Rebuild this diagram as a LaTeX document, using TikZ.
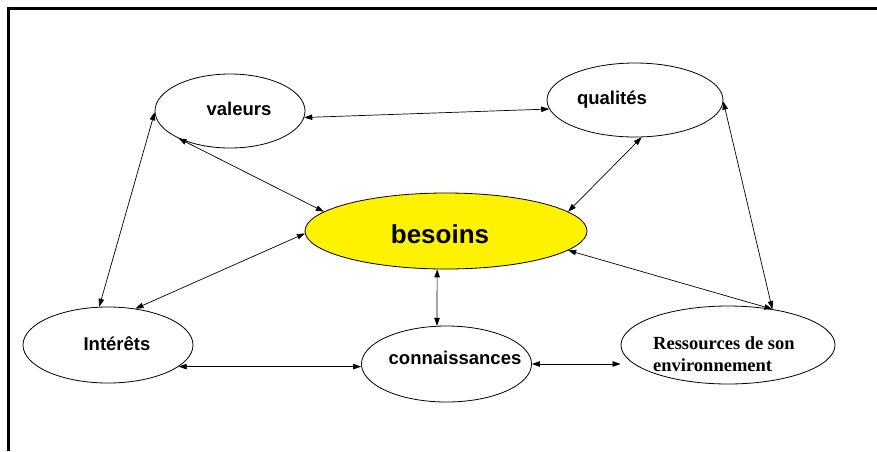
\documentclass[tikz,border=0pt]{standalone}
\usepackage{fontspec}
\setmainfont{Liberation Sans}
\newfontfamily\timesbold{Liberation Serif}
\usetikzlibrary{shapes.geometric,arrows.meta}
\begin{document}
\begin{tikzpicture}[x=1pt,y=-1pt,
  bubble/.style={ellipse,draw,line width=0.8pt,inner sep=0pt,fill=white},
  word/.style={font=\fontsize{18.5}{22}\selectfont\bfseries,anchor=base,inner sep=0pt},
  serifword/.style={font=\fontsize{18.5}{22}\selectfont\timesbold\bfseries,anchor=base west,inner sep=0pt},
  link/.style={line width=0.7pt,{Triangle[length=8pt,width=5.5pt]}-{Triangle[length=8pt,width=5.5pt]}},
]
\useasboundingbox (0,0) rectangle (877,451);
% frame on the top and left sides
\draw[line width=3.5pt] (8.5,451) -- (8.5,8.5) -- (877,8.5);

% concept bubbles
\node[bubble,minimum width=150pt,minimum height=74pt] (V) at (230,111) {};
\node[bubble,minimum width=176pt,minimum height=74pt] (Q) at (635,100) {};
\node[bubble,fill=yellow,minimum width=282pt,minimum height=76pt] (B) at (446,231) {};
\node[bubble,minimum width=170pt,minimum height=76pt] (I) at (108,345) {};
\node[bubble,minimum width=170pt,minimum height=76pt] (C) at (446.5,364) {};
\node[bubble,minimum width=214pt,minimum height=78pt] (R) at (728,345) {};

% bubble texts, placed by their baselines
\node[word] (Vt) at (239,115) {valeurs};
\node[word] (Qt) at (612,104) {qualités};
\node[word,font=\fontsize{26}{30}\selectfont\bfseries] (Bt) at (440,243) {besoins};
\node[word] (It) at (117,350) {Intérêts};
\node[word] (Ct) at (455,364) {connaissances};
\node[serifword] (Rt1) at (653,349) {Ressources de son};
\node[serifword] (Rt2) at (653,371) {environnement};

% two-way links
\draw[link] (V.-5) -- (Q.186);
\draw[link] (V.181) -- (I.103);
\draw[link] (V.208) -- (B.171);
\draw[link] (Q.280) -- (B.9);
\draw[link] (Q.-1) -- (R.39);
\draw[link] (B.-9) -- (R.39);
\draw[link] (I.53) -- (B.181);
\draw[link] (B.257) -- (C.104);
\draw[link] (I.-17) -- (C.west |- I.-17);
\draw[link] (C.east) -- (R.west |- C.east);
\end{tikzpicture}
\end{document}
